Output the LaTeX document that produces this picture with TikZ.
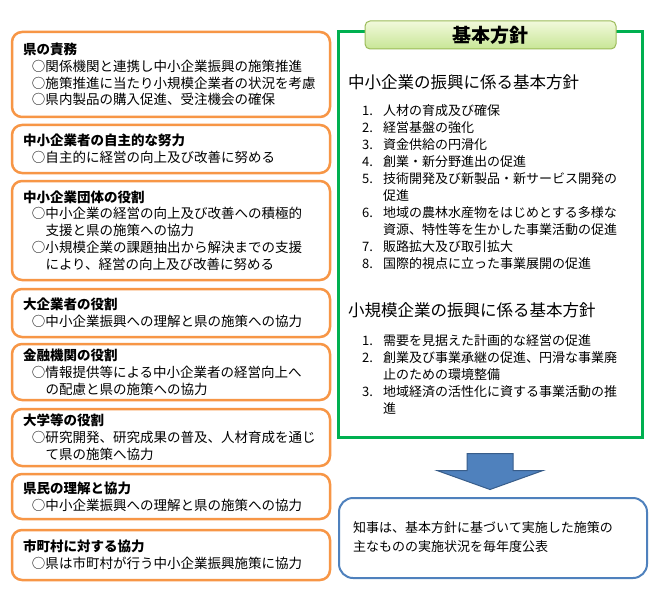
\documentclass[tikz,border=0pt]{standalone}
\usepackage{fontspec}
\setmainfont{Noto Sans CJK JP}
\usetikzlibrary{calc}
\definecolor{boxorange}{RGB}{247,150,70}
\definecolor{policygreen}{RGB}{0,176,80}
\definecolor{tabedge}{RGB}{155,187,89}
\definecolor{tabtop}{RGB}{242,249,220}
\definecolor{tabbottom}{RGB}{200,230,150}
\definecolor{reportblue}{RGB}{79,129,189}
\definecolor{arrowedge}{RGB}{56,93,138}
\newcommand{\bul}{\hspace*{9pt}○}
\newcommand{\bulcont}{\hspace*{9pt}\phantom{○}}
\newcommand{\itm}[1]{\makebox[21pt][l]{#1}}
\newcommand{\itmcont}{\hspace*{21pt}}
\begin{document}
\begin{tikzpicture}[x=1pt,y=-1pt,
	role/.style={draw=boxorange,line width=2.5pt,rounded corners=10pt,text width=296pt,
		inner xsep=11pt,inner ysep=0pt,align=left,font=\fontsize{13.5}{16.8}\selectfont},
	heading/.style={anchor=west,inner sep=0pt,font=\fontsize{16.5}{20}\selectfont},
	listtext/.style={anchor=west,inner sep=0pt,align=left,font=\fontsize{13}{17}\selectfont}]
		\useasboundingbox[fill=white] (0,0) rectangle (660,596);
		% set up the roles on the left
		\node[role,minimum height=85pt] (duty) at (171,74.5) {\textbf{県の責務}\\
			\bul 関係機関と連携し中小企業振興の施策推進\\
			\bul 施策推進に当たり小規模企業者の状況を考慮\\
			\bul 県内製品の購入促進、受注機会の確保};
		\node[role,minimum height=48pt] (effort) at (171,149) {\textbf{中小企業者の自主的な努力}\\
			\bul 自主的に経営の向上及び改善に努める};
		\node[role,minimum height=99pt] (groups) at (171,230.5) {\textbf{中小企業団体の役割}\\
			\bul 中小企業の経営の向上及び改善への積極的\\
			\bulcont 支援と県の施策への協力\\
			\bul 小規模企業の課題抽出から解決までの支援\\
			\bulcont により、経営の向上及び改善に努める};
		\node[role,minimum height=48pt] (large) at (171,313) {\textbf{大企業者の役割}\\
			\bul 中小企業振興への理解と県の施策への協力};
		\node[role,minimum height=56pt] (finance) at (171,372) {\textbf{金融機関の役割}\\
			\bul 情報提供等による中小企業者の経営向上へ\\
			\bulcont の配慮と県の施策への協力};
		\node[role,minimum height=57pt] (univ) at (171,437.5) {\textbf{大学等の役割}\\
			\bul 研究開発、研究成果の普及、人材育成を通じ\\
			\bulcont て県の施策へ協力};
		\node[role,minimum height=45pt] (citizens) at (171,496.5) {\textbf{県民の理解と協力}\\
			\bul 中小企業振興への理解と県の施策への協力};
		\node[role,minimum height=50pt] (towns) at (171,555) {\textbf{市町村に対する協力}\\
			\bul 県は市町村が行う中小企業振興施策に協力};
		% basic policy on the right
		\node[draw=policygreen,line width=3pt,minimum width=304pt,minimum height=405pt] (policy) at (490,234.5) {};
		\node[draw=tabedge,line width=1pt,rounded corners=5pt,top color=tabtop,bottom color=tabbottom,
			minimum width=251pt,minimum height=28pt,font=\fontsize{19}{22}\selectfont\bfseries] (policytitle) at (490.5,35) {基本方針};
		\node[heading] (headA) at (348,82) {中小企業の振興に係る基本方針};
		\node[listtext] (listA) at (362,187.5) {\itm{1.}人材の育成及び確保\\
			\itm{2.}経営基盤の強化\\
			\itm{3.}資金供給の円滑化\\
			\itm{4.}創業・新分野進出の促進\\
			\itm{5.}技術開発及び新製品・新サービス開発の\\
			\itmcont 促進\\
			\itm{6.}地域の農林水産物をはじめとする多様な\\
			\itmcont 資源、特性等を生かした事業活動の促進\\
			\itm{7.}販路拡大及び取引拡大\\
			\itm{8.}国際的視点に立った事業展開の促進};
		\node[heading] (headB) at (348,310) {小規模企業の振興に係る基本方針};
		\node[listtext] (listB) at (362,374) {\itm{1.}需要を見据えた計画的な経営の促進\\
			\itm{2.}創業及び事業承継の促進、円滑な事業廃\\
			\itmcont 止のための環境整備\\
			\itm{3.}地域経済の活性化に資する事業活動の推\\
			\itmcont 進};
		% report at the bottom
		\node[draw=reportblue,line width=2pt,rounded corners=14pt,minimum width=308pt,minimum height=80pt] (report) at (493,538) {};
		\node[anchor=west,inner sep=0pt,align=left,font=\fontsize{13}{19}\selectfont] (reporttext) at (353,537.5)
			{知事は、基本方針に基づいて実施した施策の\\主なものの実施状況を毎年度公表};
		% block arrow between them
		\filldraw[fill=reportblue,draw=arrowedge,line width=1pt]
			($(policy.south)+(-23,15)$) -- ++(46,0) -- ++(0,17) -- ++(30,0)
			-- ($(policy.south)+(0,51)$) -- ++(-53,-19) -- ++(30,0) -- cycle;
	\end{tikzpicture}
\end{document}
